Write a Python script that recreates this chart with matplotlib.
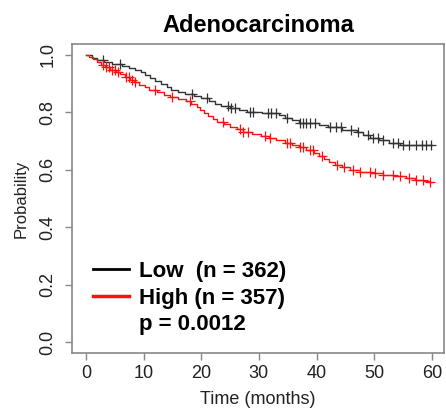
import matplotlib
matplotlib.use('Agg')
import matplotlib.pyplot as plt
from matplotlib.lines import Line2D
import numpy as np

plt.rcParams['font.family'] = ['Liberation Sans', 'DejaVu Sans']

# Kaplan-Meier steps (months, survival)
low_t = [0, 1.0, 2.0, 3.2, 4.5, 6.2, 7.5, 8.6, 9.5, 10.3, 11.2, 12.0, 13.0, 14.0,
         14.8, 16.0, 17.2, 18.8, 20.0, 21.3, 22.4, 23.5, 25.0, 26.5, 28.0, 30.5,
         33.5, 34.6, 35.8, 37.0, 40.5, 42.0, 44.5, 47.0, 48.0, 49.3, 50.8, 52.5,
         54.5, 56.0, 60.0]
low_s = [1.0, 0.99, 0.982, 0.975, 0.97, 0.962, 0.955, 0.947, 0.94, 0.93, 0.92, 0.91,
         0.90, 0.89, 0.878, 0.87, 0.864, 0.858, 0.85, 0.84, 0.83, 0.822, 0.815, 0.807,
         0.80, 0.797, 0.79, 0.78, 0.772, 0.764, 0.757, 0.748, 0.74, 0.732, 0.722,
         0.712, 0.703, 0.695, 0.688, 0.686, 0.686]
low_cens = [3.0, 5.9, 18.4, 21.0, 24.6, 25.2, 25.8, 28.4, 29.0, 31.6, 32.1, 33.0,
            34.8, 37.1, 37.6, 38.2, 38.8, 39.7, 42.3, 43.4, 44.3, 46.0, 47.2, 48.9,
            49.8, 50.6, 51.5, 53.3, 54.1, 55.0, 56.1, 57.3, 58.2, 59.0, 59.9]

high_t = [0, 0.5, 1.3, 2.0, 2.6, 3.3, 4.2, 5.2, 6.0, 6.8, 7.6, 8.4, 9.3, 10.2, 11.0,
          12.3, 13.5, 14.6, 16.0, 17.3, 18.3, 19.2, 19.8, 20.5, 21.2, 22.0, 22.8,
          24.0, 25.0, 26.2, 27.3, 28.8, 30.3, 31.8, 33.0, 34.5, 35.7, 37.0, 38.2,
          39.5, 40.5, 41.3, 42.2, 43.2, 44.5, 45.8, 47.5, 49.5, 51.5, 53.5, 55.5,
          57.0, 58.5, 59.5, 60.0]
high_s = [1.0, 0.993, 0.985, 0.975, 0.966, 0.958, 0.948, 0.94, 0.933, 0.922, 0.913,
          0.905, 0.895, 0.887, 0.878, 0.87, 0.862, 0.855, 0.846, 0.838, 0.83, 0.818,
          0.808, 0.797, 0.787, 0.777, 0.768, 0.759, 0.75, 0.742, 0.733, 0.725, 0.718,
          0.71, 0.703, 0.694, 0.686, 0.678, 0.668, 0.658, 0.648, 0.637, 0.626, 0.617,
          0.608, 0.599, 0.594, 0.589, 0.583, 0.577, 0.571, 0.566, 0.56, 0.557, 0.557]
high_cens = [3.0, 3.5, 4.0, 4.5, 5.0, 5.5, 7.0, 7.5, 8.0, 8.6, 12.0, 15.0, 18.0,
             23.8, 26.7, 27.3, 28.2, 31.0, 31.9, 34.8, 35.4, 37.1, 37.7, 38.8, 39.3,
             41.0, 43.5, 44.7, 46.4, 47.5, 49.2, 50.1, 51.5, 53.3, 54.4, 56.1, 57.3,
             58.4, 59.6]

x_ticks = [0, 10, 20, 30, 40, 50, 60]
y_ticks = [0.0, 0.2, 0.4, 0.6, 0.8, 1.0]

low_label = 'Low  (n = 362)'
high_label = 'High (n = 357)'
p_label = 'p = 0.0012'


def step_at(t, s, x):
    idx = np.searchsorted(t, x, side='right') - 1
    return np.asarray(s)[idx]


fig = plt.figure(figsize=(4.46, 4.09), dpi=100)
ax = fig.add_axes([72 / 446, 56 / 409, 372 / 446, 309 / 409])

ax.plot(low_t, low_s, drawstyle='steps-post', color='#333333', linewidth=1.0)
ax.plot(high_t, high_s, drawstyle='steps-post', color='#ff1010', linewidth=1.0)
ax.plot(low_cens, step_at(low_t, low_s, low_cens), '+', color='#333333',
        markersize=6.5, markeredgewidth=0.9)
ax.plot(high_cens, step_at(high_t, high_s, high_cens), '+', color='#ff1010',
        markersize=6.5, markeredgewidth=0.9)

ax.set_xlim(-2.4, 62.1)
ax.set_ylim(-0.038, 1.038)
ax.set_xticks(x_ticks)
ax.set_yticks(y_ticks)
ax.set_yticklabels([f'{v:.1f}' for v in y_ticks], rotation=90, va='center')
for sp in ax.spines.values():
    sp.set_color('#888888')
    sp.set_linewidth(1.2)
ax.tick_params(axis='both', colors='#888888', labelcolor='#222222',
               length=5, width=1.0, labelsize=13)
ax.tick_params(axis='x', pad=4)
ax.tick_params(axis='y', pad=6)

ax.set_xlabel('Time (months)', fontsize=13, color='#222222', labelpad=6)
ax.set_ylabel('Probability', fontsize=12, color='#222222', labelpad=8)
fig.text(258 / 446, 1 - 25 / 409, 'Adenocarcinoma', ha='center', va='center',
         fontsize=17, fontweight='bold')

handles = [Line2D([], [], color='black', linewidth=2),
           Line2D([], [], color='#ff1010', linewidth=2.5),
           Line2D([], [], color='none')]
leg = ax.legend(handles, [low_label, high_label, p_label], loc='lower left',
                bbox_to_anchor=(0.004, -0.006), frameon=False,
                prop={'size': 16, 'weight': 'bold'}, handlelength=1.6,
                handletextpad=0.45, labelspacing=0.24)

fig.savefig('out.png', dpi=100)
